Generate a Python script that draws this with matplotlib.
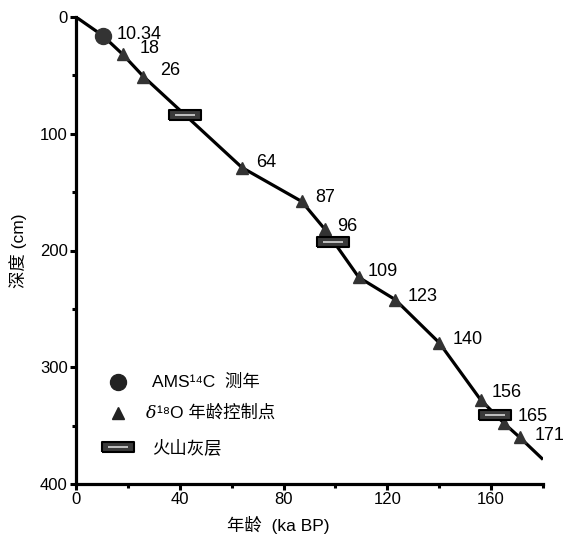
import matplotlib
matplotlib.use("Agg")
import matplotlib.pyplot as plt

plt.rcParams['font.family'] = ['Liberation Sans', 'Noto Sans CJK SC', 'DejaVu Sans']

# age (ka BP) vs depth (cm)
ams_age = [10.34]
ams_depth = [16]
ctrl_age = [18, 26, 64, 87, 96, 109, 123, 140, 156, 165, 171]
ctrl_depth = [32, 51, 129, 158, 182, 223, 242, 279, 328, 348, 360]
ctrl_labels = ["18", "26", "64", "87", "96", "109", "123", "140", "156", "165", "171"]
ash_age = [42, 99, 161.5]
ash_depth = [84, 193, 341]
line_age = [0, 10.34, 18, 26, 64, 87, 96, 109, 123, 140, 156, 165, 171, 180]
line_depth = [0, 16, 32, 51, 129, 158, 182, 223, 242, 279, 328, 348, 360, 379]

# label offsets in points (dx, dy)
label_offsets = [(12, 4), (12, 4), (10, 4), (10, 3), (9, 2), (6, 4), (9, 2), (10, 2), (8, 5), (10, 5), (11, 1)]

rect = [(-1.5, -0.5), (1.5, -0.5), (1.5, 0.5), (-1.5, 0.5), (-1.5, -0.5)]
stripe = [(-1.5, -0.15), (1.5, -0.15), (1.5, 0.15), (-1.5, 0.15), (-1.5, -0.15)]


def ash(ax, x, y, transform=None, **kw):
    kw = dict(kw)
    if transform is not None:
        kw['transform'] = transform
    ax.plot(x, y, linestyle='none', marker=rect, markersize=22.5,
            markerfacecolor='#3a3a3a', markeredgecolor='black',
            markeredgewidth=1.5, zorder=5, **kw)
    ax.plot(x, y, linestyle='none', marker=stripe, markersize=15,
            markerfacecolor='#bdbdbd', markeredgewidth=0, zorder=6, **kw)


fig = plt.figure(figsize=(5.64, 5.41), dpi=100)
ax = fig.add_axes([76 / 564, 1 - 484 / 541, (543 - 76) / 564, (484 - 17) / 541])

ax.plot(line_age, line_depth, color='black', lw=2.3, zorder=3, solid_capstyle='butt')
ax.plot(ams_age, ams_depth, 'o', color='#333333', markersize=11.5, zorder=4)
ax.plot(ctrl_age, ctrl_depth, '^', color='#333333', markersize=8.5, zorder=4)
ash(ax, ash_age, ash_depth)

ax.annotate("10.34", (ams_age[0], ams_depth[0]), xytext=(10, 1),
            textcoords='offset points', fontsize=13, va='center')
for a, d, lab, off in zip(ctrl_age, ctrl_depth, ctrl_labels, label_offsets):
    ax.annotate(lab, (a, d), xytext=off, textcoords='offset points',
                fontsize=13, va='center')

ax.set_xlim(0, 180)
ax.set_ylim(400, 0)
ax.set_xticks([0, 40, 80, 120, 160])
ax.set_xticks([20, 60, 100, 140, 180], minor=True)
ax.set_yticks([0, 100, 200, 300, 400])
ax.set_yticks([50, 150, 250, 350], minor=True)
ax.tick_params(which='major', length=4, width=2.2, labelsize=12, pad=2)
ax.tick_params(which='minor', length=3, width=2.2)
for s in ['top', 'right']:
    ax.spines[s].set_visible(False)
for s in ['left', 'bottom']:
    ax.spines[s].set_linewidth(2.3)
ax.set_xlabel("年龄  (ka BP)", fontsize=12.5, labelpad=2)
ax.xaxis.set_label_coords(0.433, -0.068)
ax.set_ylabel("深度 (cm)", fontsize=12.5, labelpad=9)

# legend drawn by hand
t = ax.transAxes
ax.plot([0.09], [0.218], 'o', color='#222222', markersize=11.5, transform=t, clip_on=False)
ax.plot([0.09], [0.152], '^', color='#222222', markersize=8.5, transform=t, clip_on=False)
ash(ax, [0.09], [0.079], transform=t, clip_on=False)
ax.text(0.163, 0.218, "AMS\u00b9\u2074C  测年", transform=t, fontsize=12.5, va='center')
d = ax.text(0.149, 0.152, "δ", transform=t, fontsize=12.5, va='center', style='italic',
            family=['DejaVu Serif'])
ax.annotate("\u00b9\u2078O 年龄控制点", xy=(1, 0.5), xycoords=d, fontsize=12.5,
            va='center', xytext=(0.5, 0), textcoords='offset points')
ax.text(0.163, 0.079, "火山灰层", transform=t, fontsize=12.5, va='center')

fig.savefig("out.png", dpi=100)
